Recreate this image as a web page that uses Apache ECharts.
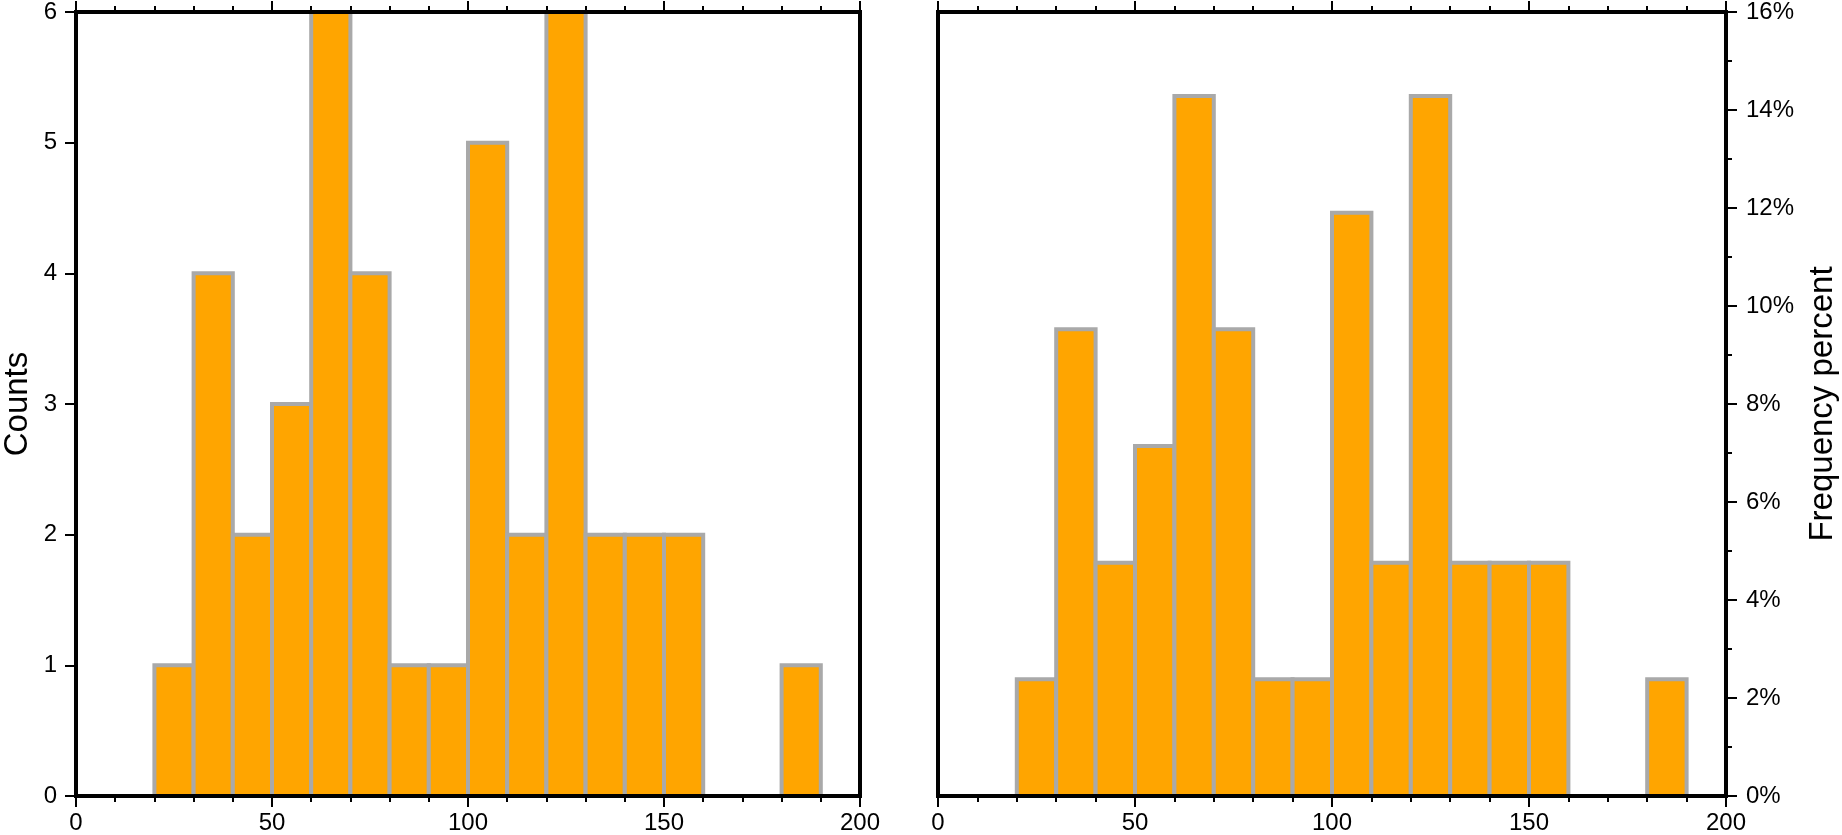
<!DOCTYPE html>
<html>
<head>
<meta charset="utf-8">
<script src="https://cdn.jsdelivr.net/npm/echarts@6/dist/echarts.min.js"></script>
<style>
html,body{margin:0;padding:0;background:#fff;}
#chart{width:1842px;height:835px;}
</style>
</head>
<body>
<div id="chart"></div>
<script>
// ---- data ----
const binStarts = [20, 30, 40, 50, 60, 70, 80, 90, 100, 110, 120, 130, 140, 150, 160, 170, 180];
const binWidth = 10;
const counts = [1, 4, 2, 3, 6, 4, 1, 1, 5, 2, 6, 2, 2, 2, 0, 0, 1];
const xRange = [0, 200];
const countRange = [0, 6];
const percentRange = [0, 16];
const leftTitle = 'Counts';
const rightTitle = 'Frequency percent';

const total = counts.reduce((a, b) => a + b, 0);
const percents = counts.map(c => c / total * 100);

const FONT = "'Liberation Sans', Helvetica, Arial, sans-serif";
const BLACK = '#000';

function histData(vals) {
  return binStarts.map((s, i) => [s, s + binWidth, vals[i]]).filter(d => d[2] > 0);
}

function renderBar(params, api) {
  const p0 = api.coord([api.value(0), api.value(2)]);
  const p1 = api.coord([api.value(1), 0]);
  return {
    type: 'rect',
    shape: { x: p0[0], y: p0[1], width: p1[0] - p0[0], height: p1[1] - p0[1] },
    style: { fill: '#FFA500', stroke: '#A9A9A9', lineWidth: 4 }
  };
}

const axisLineStyle = { show: true, onZero: false, lineStyle: { color: BLACK, width: 4, cap: 'square' } };

function xAxisDef(gridIndex, position, showLabels) {
  return {
    type: 'value', gridIndex, position, min: xRange[0], max: xRange[1], interval: 50, z: 10,
    axisLine: axisLineStyle,
    axisTick: { show: true, length: 11, lineStyle: { color: BLACK, width: 2 } },
    minorTick: { show: true, splitNumber: 5, length: 6, lineStyle: { color: BLACK, width: 2 } },
    splitLine: { show: false }, minorSplitLine: { show: false },
    axisLabel: { show: showLabels, color: BLACK, fontSize: 24, fontFamily: FONT, margin: 15 }
  };
}

function yAxisDef(gridIndex, position, range, interval, opts) {
  return Object.assign({
    type: 'value', gridIndex, position, min: range[0], max: range[1], interval, z: 10,
    axisLine: axisLineStyle,
    axisTick: { show: false },
    minorTick: { show: false },
    splitLine: { show: false }, minorSplitLine: { show: false },
    axisLabel: { show: false }
  }, opts);
}

const chart = echarts.init(document.getElementById('chart'));
chart.setOption({
  animation: false,
  backgroundColor: '#fff',
  grid: [
    { left: 72, top: 12, width: 788, height: 787 },
    { left: 938, top: 12, width: 788, height: 787 }
  ],
  xAxis: [
    xAxisDef(0, 'bottom', true),
    xAxisDef(0, 'top', false),
    xAxisDef(1, 'bottom', true),
    xAxisDef(1, 'top', false)
  ],
  yAxis: [
    yAxisDef(0, 'left', countRange, 1, {
      axisTick: { show: true, length: 11, lineStyle: { color: BLACK, width: 2 } },
      axisLabel: { show: true, color: BLACK, fontSize: 24, fontFamily: FONT, margin: 19 },
      name: leftTitle, nameLocation: 'middle', nameRotate: 90, nameGap: 42,
      nameTextStyle: { color: BLACK, fontSize: 33, fontFamily: FONT }
    }),
    yAxisDef(0, 'right', countRange, 1, {}),
    yAxisDef(1, 'left', percentRange, 2, {}),
    yAxisDef(1, 'right', percentRange, 2, {
      axisTick: { show: true, length: 11, lineStyle: { color: BLACK, width: 2 } },
      minorTick: { show: true, splitNumber: 2, length: 6, lineStyle: { color: BLACK, width: 2 } },
      axisLabel: { show: true, color: BLACK, fontSize: 24, fontFamily: FONT, margin: 20, formatter: '{value}%' },
      name: rightTitle, nameLocation: 'middle', nameRotate: 90, nameGap: 80,
      nameTextStyle: { color: BLACK, fontSize: 33, fontFamily: FONT }
    })
  ],
  series: [
    { type: 'custom', xAxisIndex: 0, yAxisIndex: 0, renderItem: renderBar, data: histData(counts), encode: { x: [0, 1], y: 2 }, z: 2 },
    { type: 'custom', xAxisIndex: 2, yAxisIndex: 3, renderItem: renderBar, data: histData(percents), encode: { x: [0, 1], y: 2 }, z: 2 }
  ]
});
</script>
</body>
</html>
